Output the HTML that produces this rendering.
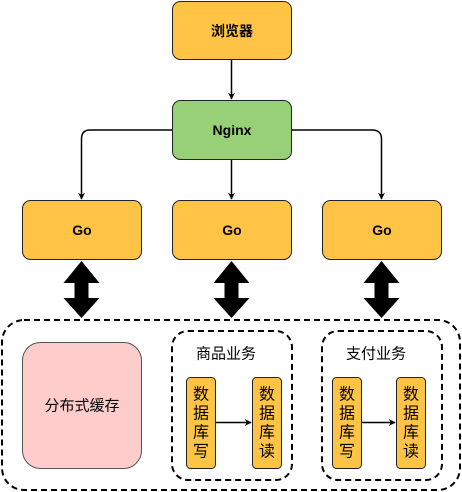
<!DOCTYPE html>
<html><head><meta charset="utf-8"><style>
html,body{margin:0;padding:0;background:#fff;width:462px;height:492px;overflow:hidden}
svg{display:block}
text{font-family:"Liberation Sans","Noto Sans CJK SC",sans-serif;font-size:14px;fill:#000;text-anchor:middle;dominant-baseline:central}
.c{font-size:15px}
.v{font-size:16px}
</style></head><body>
<svg width="462" height="492" viewBox="0 0 462 492" xmlns="http://www.w3.org/2000/svg">
<defs>
<marker id="a" viewBox="0 0 10 10" refX="9" refY="5" markerWidth="7" markerHeight="7" markerUnits="userSpaceOnUse" orient="auto">
<path d="M0,0 L10,5 L0,10 L3,5 Z" fill="#000"/></marker>
</defs>
<rect x="172.5" y="1.5" width="119" height="58" rx="8" fill="#FFC445" stroke="#222"/>
<text x="232" y="31" font-weight="bold">浏览器</text>
<rect x="172.5" y="100.5" width="119" height="59" rx="8" fill="#97D077" stroke="#222"/>
<text x="232" y="130" font-weight="bold">Nginx</text>
<rect x="22.5" y="200.5" width="119" height="59" rx="8" fill="#FFC445" stroke="#222"/>
<text x="82" y="230" font-weight="bold">Go</text>
<rect x="172.5" y="200.5" width="119" height="59" rx="8" fill="#FFC445" stroke="#222"/>
<text x="232" y="230" font-weight="bold">Go</text>
<rect x="322.5" y="200.5" width="119" height="59" rx="8" fill="#FFC445" stroke="#222"/>
<text x="382" y="230" font-weight="bold">Go</text>
<path d="M231.5,60 V99" stroke="#000" stroke-width="1.5" fill="none" marker-end="url(#a)"/>
<path d="M231.5,160 V199" stroke="#000" stroke-width="1.5" fill="none" marker-end="url(#a)"/>
<path d="M172,130 H90 Q81.5,130 81.5,139 V199" stroke="#000" stroke-width="1.5" fill="none" marker-end="url(#a)"/>
<path d="M292,130 H372 Q381.5,130 381.5,139 V199" stroke="#000" stroke-width="1.5" fill="none" marker-end="url(#a)"/>
<g fill="#000">
<path d="M81.5,261 L99.5,283 L88.5,283 L88.5,298 L99.5,298 L81.5,318 L63.5,298 L74.5,298 L74.5,283 L63.5,283 Z"/>
<path d="M231.5,261 L249.5,283 L238.5,283 L238.5,298 L249.5,298 L231.5,318 L213.5,298 L224.5,298 L224.5,283 L213.5,283 Z"/>
<path d="M381.5,261 L399.5,283 L388.5,283 L388.5,298 L399.5,298 L381.5,318 L363.5,298 L374.5,298 L374.5,283 L363.5,283 Z"/>
</g>
<rect x="2" y="320" width="458" height="170" rx="22" fill="none" stroke="#000" stroke-width="2" stroke-dasharray="6,4"/>
<rect x="22.5" y="342.5" width="119" height="126" rx="18" fill="#FFCCCC" stroke="#555"/>
<text class="c" x="82" y="406">分布式缓存</text>
<rect x="172" y="331" width="120" height="149" rx="16" fill="none" stroke="#000" stroke-width="2" stroke-dasharray="6,4"/>
<text class="c" x="226" y="354">商品业务</text>
<rect x="322" y="331" width="120" height="149" rx="16" fill="none" stroke="#000" stroke-width="2" stroke-dasharray="6,4"/>
<text class="c" x="376" y="354">支付业务</text>
<rect x="186.5" y="377.5" width="29" height="91" rx="4" fill="#FFC445" stroke="#222"/>
<rect x="252.5" y="377.5" width="29" height="91" rx="4" fill="#FFC445" stroke="#222"/>
<rect x="332.5" y="377.5" width="29" height="91" rx="4" fill="#FFC445" stroke="#222"/>
<rect x="396.5" y="377.5" width="29" height="91" rx="4" fill="#FFC445" stroke="#222"/>
<g class="v">
<text class="v" x="201" y="395">数</text><text class="v" x="201" y="414">据</text><text class="v" x="201" y="433">库</text><text class="v" x="201" y="452">写</text>
<text class="v" x="267" y="395">数</text><text class="v" x="267" y="414">据</text><text class="v" x="267" y="433">库</text><text class="v" x="267" y="452">读</text>
<text class="v" x="347" y="395">数</text><text class="v" x="347" y="414">据</text><text class="v" x="347" y="433">库</text><text class="v" x="347" y="452">写</text>
<text class="v" x="411" y="395">数</text><text class="v" x="411" y="414">据</text><text class="v" x="411" y="433">库</text><text class="v" x="411" y="452">读</text>
</g>
<path d="M216,422.5 H251" stroke="#000" stroke-width="1.5" marker-end="url(#a)"/>
<path d="M362,422.5 H395" stroke="#000" stroke-width="1.5" marker-end="url(#a)"/>
</svg>
</body></html>
